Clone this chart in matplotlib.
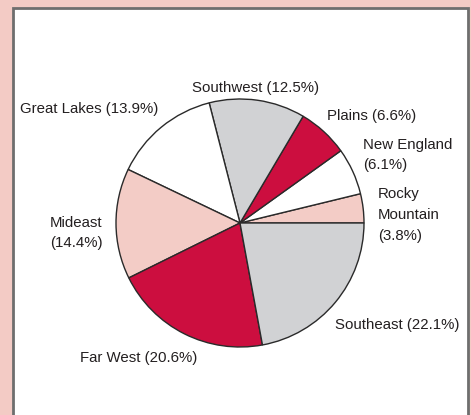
import matplotlib
matplotlib.use("Agg")
import matplotlib.pyplot as plt
from matplotlib.patches import Rectangle

regions = ["Rocky Mountain", "New England", "Plains", "Southwest",
           "Great Lakes", "Mideast", "Far West", "Southeast"]
shares = [3.8, 6.1, 6.6, 12.5, 13.9, 14.4, 20.6, 22.1]
label_texts = ["Rocky\nMountain\n(3.8%)", "New England\n(6.1%)", "Plains (6.6%)",
               "Southwest (12.5%)", "Great Lakes (13.9%)", "Mideast\n(14.4%)",
               "Far West (20.6%)", "Southeast (22.1%)"]

CRIMSON = "#CC0E3F"
PINK = "#F3CCC6"
GRAY = "#D1D2D4"
WHITE = "#FFFFFF"
colors = [PINK, WHITE, CRIMSON, GRAY, WHITE, PINK, CRIMSON, GRAY]

fig = plt.figure(figsize=(4.71, 4.15), dpi=100, facecolor="#F3CBC5")
ax = fig.add_axes([0, 0, 1, 1])

ax.add_patch(Rectangle((12.5, 8.5), 455, 420, facecolor="white",
                       edgecolor="#6E6E6E", lw=2, zorder=0))

ax.pie(shares, colors=colors, startangle=0, counterclock=False,
       center=(240, 223), radius=124, frame=True,
       wedgeprops=dict(edgecolor="#2A2A2A", linewidth=1.0))
ax.set_xlim(0, 471)
ax.set_ylim(415, 0)
ax.set_aspect("equal")
ax.axis("off")

font = dict(family="Liberation Sans", fontsize=10.8, color="#231F20")
pos = {
    "Rocky Mountain": (378, 215, "left", "center", "left"),
    "New England": (363, 155, "left", "center", "left"),
    "Plains": (327, 116, "left", "center", "left"),
    "Southwest": (256, 88, "center", "center", "center"),
    "Great Lakes": (20, 109, "left", "center", "left"),
    "Mideast": (76, 233, "center", "center", "center"),
    "Far West": (80, 358, "left", "center", "left"),
    "Southeast": (335, 325, "left", "center", "left"),
}
for r, t in zip(regions, label_texts):
    x, y, ha, va, ma = pos[r]
    ax.text(x, y, t, ha=ha, va=va, multialignment=ma, linespacing=1.6, **font)

fig.savefig("out.png", dpi=100, facecolor=fig.get_facecolor())
